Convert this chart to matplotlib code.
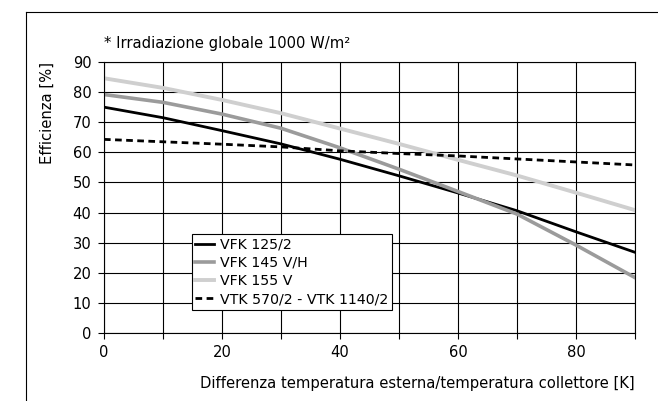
import matplotlib
matplotlib.use('Agg')
import matplotlib.pyplot as plt
from matplotlib.lines import Line2D

# temperature difference [K]
x = [0, 10, 20, 30, 40, 50, 60, 70, 80, 90]

# efficiency [%]
vfk_125 = [75.0, 71.5, 67.2, 62.8, 57.7, 52.2, 46.5, 40.6, 33.6, 26.8]
vfk_145 = [79.2, 76.6, 72.7, 68.0, 61.5, 54.4, 47.0, 39.5, 29.2, 18.4]
vfk_155 = [84.6, 81.4, 77.4, 73.0, 67.9, 62.8, 57.5, 52.3, 46.6, 40.8]
vtk_570 = [64.3, 63.5, 62.7, 61.8, 60.5, 59.6, 58.8, 57.8, 56.8, 55.8]

labels = ['VFK 125/2', 'VFK 145 V/H', 'VFK 155 V', 'VTK 570/2 - VTK 1140/2']

plt.rcParams['font.family'] = 'DejaVu Sans'
plt.rcParams['font.size'] = 10.6

fig = plt.figure(figsize=(6.58, 4.01), dpi=100)
ax = fig.add_axes([0.158, 0.1696, 0.807, 0.6758])

ax.plot(x, vfk_125, color='black', lw=2.0, label=labels[0])
ax.plot(x, vfk_145, color='#9b9b9b', lw=2.6, label=labels[1])
ax.plot(x, vfk_155, color='#cfcfcf', lw=2.8, label=labels[2])
ax.plot(x, vtk_570, color='black', lw=2.0, dashes=(2.4, 1.6), label=labels[3])

ax.set_xlim(0, 90)
ax.set_ylim(0, 90)
ax.set_xticks(range(0, 91, 10))
ax.set_xticklabels([str(v) if v % 20 == 0 else '' for v in range(0, 91, 10)])
ax.set_yticks(range(0, 91, 10))
ax.grid(True, color='black', lw=0.8)
ax.set_axisbelow(True)
ax.tick_params(direction='out', length=4, width=0.8, color='black', pad=5)
for s in ax.spines.values():
    s.set_linewidth(0.8)

ax.set_xlabel('Differenza temperatura esterna/temperatura collettore [K]',
              ha='right', x=1.0, labelpad=11)
ax.set_ylabel('Efficienza [%]', ha='right', y=1.0, labelpad=13)
ax.text(0, 1.07, '* Irradiazione globale 1000 W/m²', transform=ax.transAxes,
        ha='left', va='center')

leg = ax.legend(loc='lower left', bbox_to_anchor=(0.165, 0.085), fancybox=False,
                framealpha=1, edgecolor='black', handlelength=1.3,
                handletextpad=0.45, borderpad=0.25, labelspacing=0.3,
                borderaxespad=0, fontsize=10.2)
leg.get_frame().set_linewidth(0.8)

# outer frame (left and top edges)
fig.add_artist(Line2D([26 / 658, 26 / 658], [0, 1 - 12 / 401], color='black', lw=0.8))
fig.add_artist(Line2D([26 / 658, 1], [1 - 12 / 401, 1 - 12 / 401], color='black', lw=0.8))

plt.savefig('out.png', dpi=100)
